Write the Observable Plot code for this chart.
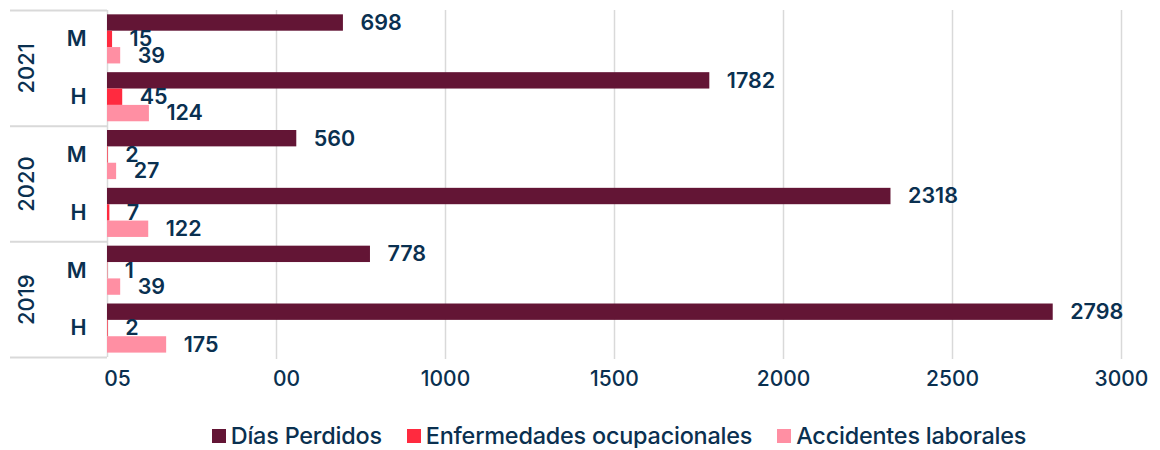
<!DOCTYPE html>
<html>
<head>
<meta charset="utf-8">
<script src="https://cdn.jsdelivr.net/npm/d3@7"></script>
<script src="https://cdn.jsdelivr.net/npm/@observablehq/plot@0.6"></script>
<style>
  html, body { margin: 0; padding: 0; background: #fff; }
  body { width: 1160px; font-family: "Inter", sans-serif; color: #0a3050; }
  #chart svg { display: block; }
  .legend { display: flex; justify-content: center; gap: 25px; margin-left: 107px; width: 1024px; padding-top: 14px; font-size: 23.4px; font-weight: 500; line-height: 24px; letter-spacing: -0.2px; }
  .legend .item { display: flex; align-items: center; gap: 5px; }
  .legend .sw { width: 14px; height: 14px; display: inline-block; }
</style>
</head>
<body>
<div id="chart"></div>
<div class="legend" id="legend"></div>
<script>
// ---- data ----
const years = ["2021", "2020", "2019"];
const sexes = ["M", "H"];
const series = ["Días Perdidos", "Enfermedades ocupacionales", "Accidentes laborales"];
// order: 2021 M, 2021 H, 2020 M, 2020 H, 2019 M, 2019 H
const diasPerdidos = [698, 1782, 560, 2318, 778, 2798];
const enfermedades = [15, 45, 2, 7, 1, 2];
const accidentes = [39, 124, 27, 122, 39, 175];
const colors = ["#631535", "#ff2a3f", "#ff8fa3"];
const ticks = [0, 500, 1000, 1500, 2000, 2500, 3000];
const tickLabels = ["05", "00", "1000", "1500", "2000", "2500", "3000"];

// ---- build table ----
const seriesValues = [diasPerdidos, enfermedades, accidentes];
const keys = [];
years.forEach((yr, g) => sexes.forEach((sx, s) => keys.push({year: yr, sex: sx, i: g * 2 + s})));
const rows = [];
keys.forEach(k => seriesValues.forEach((vals, j) => rows.push({i: k.i, j, series: series[j], value: vals[k.i]})));

const pad = 0.075, bw = 0.283;
const navy = "#0a3050";
const grid = "#d9d9d9";

const chart = Plot.plot({
  width: 1160,
  height: 410,
  marginLeft: 107,
  marginRight: 39,
  marginTop: 10,
  marginBottom: 53,
  style: {fontFamily: "Inter, sans-serif", fontSize: "20px", color: navy, background: "#fff"},
  x: {domain: [0, 3000], axis: null},
  y: {domain: [0, 6], reverse: true, axis: null},
  color: {domain: series, range: colors},
  marks: [
    Plot.ruleX(ticks.slice(1), {x: d => d, stroke: grid, strokeWidth: 1.5, insetBottom: -2}),
    Plot.ruleX([0], {x: d => d, stroke: grid, strokeWidth: 1.5}),
    Plot.ruleY([0, 2, 4, 6], {y: d => d, x2: 0, insetLeft: -97, stroke: grid, strokeWidth: 2}),
    Plot.rectX(rows, {
      x1: 0, x2: "value",
      y1: d => d.i + pad + d.j * bw,
      y2: d => d.i + pad + (d.j + 1) * bw,
      fill: "series"
    }),
    Plot.text(rows, {
      x: "value",
      y: d => d.i + pad + (d.j + 0.5) * bw,
      text: d => String(d.value),
      dx: 17, textAnchor: "start", fill: navy, fontWeight: 600, fontSize: 21.5
    }),
    Plot.text(keys, {
      y: d => d.i + 0.5, text: "sex", frameAnchor: "left",
      dx: -21, textAnchor: "end", fill: navy, fontWeight: 600, fontSize: 21.5
    }),
    Plot.text(years, {
      y: (d, g) => 2 * g + 1, text: d => d, frameAnchor: "left",
      dx: -81, rotate: -90, textAnchor: "middle", fill: navy, fontWeight: 500, fontSize: 22
    }),
    Plot.text(ticks.slice(0, 2), {
      x: d => d, text: (d, i) => tickLabels[i], frameAnchor: "bottom",
      dy: 28, dx: 10, fill: navy, fontWeight: 500, fontSize: 21
    }),
    Plot.text(ticks.slice(2), {
      x: d => d, text: (d, i) => tickLabels[i + 2], frameAnchor: "bottom",
      dy: 28, fill: navy, fontWeight: 500, fontSize: 21
    })
  ]
});
document.getElementById("chart").appendChild(chart);

const legend = document.getElementById("legend");
series.forEach((s, j) => {
  const item = document.createElement("span");
  item.className = "item";
  const sw = document.createElement("span");
  sw.className = "sw";
  sw.style.background = colors[j];
  const t = document.createElement("span");
  t.textContent = s;
  item.appendChild(sw);
  item.appendChild(t);
  legend.appendChild(item);
});
</script>
</body>
</html>
